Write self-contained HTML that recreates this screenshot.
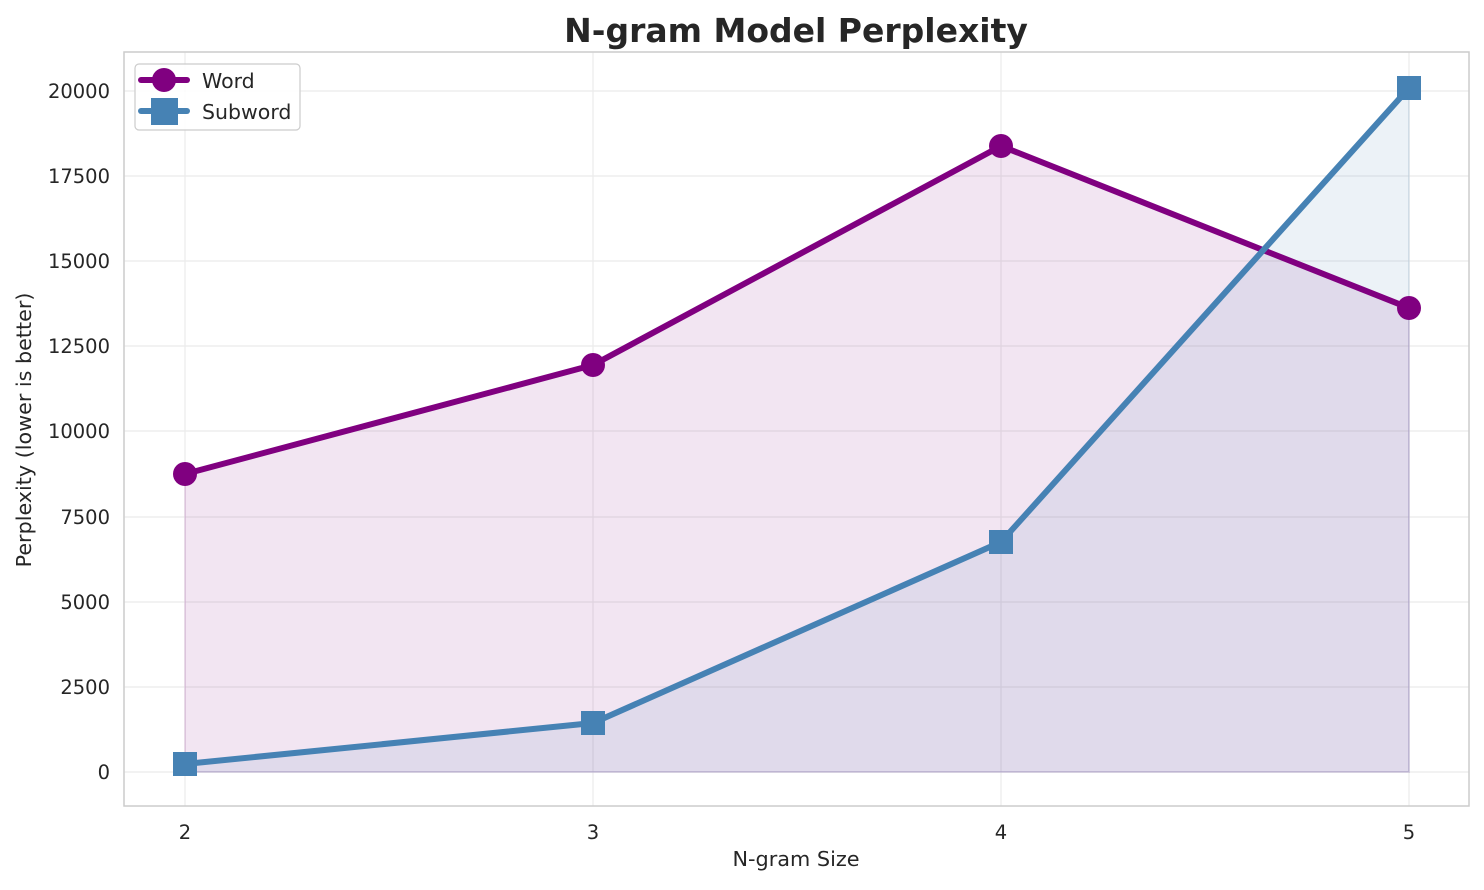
<!DOCTYPE html>
<html><head><meta charset="utf-8"><style>
body{margin:0;background:#fff}
text{font-family:"DejaVu Sans","Liberation Sans",sans-serif;fill:#262626}
</style></head><body>
<svg width="1484" height="885" viewBox="0 0 1484 885" xmlns="http://www.w3.org/2000/svg">
<rect width="1484" height="885" fill="#fff"/>
<g stroke="#ebebeb" stroke-width="1.2">
<line x1="185" y1="52" x2="185" y2="806"/><line x1="593" y1="52" x2="593" y2="806"/>
<line x1="1001" y1="52" x2="1001" y2="806"/><line x1="1409" y1="52" x2="1409" y2="806"/>
<line x1="124" y1="772" x2="1469" y2="772"/><line x1="124" y1="687" x2="1469" y2="687"/>
<line x1="124" y1="602" x2="1469" y2="602"/><line x1="124" y1="517" x2="1469" y2="517"/>
<line x1="124" y1="431" x2="1469" y2="431"/><line x1="124" y1="346" x2="1469" y2="346"/>
<line x1="124" y1="261" x2="1469" y2="261"/><line x1="124" y1="176" x2="1469" y2="176"/>
<line x1="124" y1="91" x2="1469" y2="91"/>
</g>
<polygon points="185,474 593,365 1001,146 1409,308 1409,772 185,772" fill="purple" fill-opacity="0.1" stroke="purple" stroke-opacity="0.1" stroke-width="2"/>
<polygon points="185,764 593,723 1001,542 1409,88 1409,772 185,772" fill="steelblue" fill-opacity="0.1" stroke="steelblue" stroke-opacity="0.1" stroke-width="2"/>
<polyline points="185,474 593,365 1001,146 1409,308" fill="none" stroke="purple" stroke-width="6" stroke-linejoin="round"/>
<g fill="purple"><circle cx="185" cy="474" r="12"/><circle cx="593" cy="365" r="12"/><circle cx="1001" cy="146" r="12"/><circle cx="1409" cy="308" r="12"/></g>
<polyline points="185,764 593,723 1001,542 1409,88" fill="none" stroke="steelblue" stroke-width="6" stroke-linejoin="round"/>
<g fill="steelblue"><rect x="173" y="752" width="24" height="24"/><rect x="581" y="711" width="24" height="24"/><rect x="989" y="530" width="24" height="24"/><rect x="1397" y="76" width="24" height="24"/></g>
<rect x="124" y="52" width="1345" height="754" fill="none" stroke="#ccc" stroke-width="1.5"/>
<g font-size="19.5" text-anchor="middle">
<text x="185" y="839">2</text><text x="593" y="839">3</text><text x="1001" y="839">4</text><text x="1409" y="839">5</text>
</g>
<g font-size="19.5" text-anchor="end">
<text x="110" y="779">0</text><text x="110" y="694">2500</text><text x="110" y="609">5000</text>
<text x="110" y="524">7500</text><text x="110" y="438">10000</text><text x="110" y="353">12500</text>
<text x="110" y="268">15000</text><text x="110" y="183">17500</text><text x="110" y="98">20000</text>
</g>
<text x="796" y="866" font-size="20.8" text-anchor="middle">N-gram Size</text>
<text transform="translate(31,430) rotate(-90)" font-size="20.7" text-anchor="middle">Perplexity (lower is better)</text>
<text x="796" y="42" font-size="33" font-weight="bold" text-anchor="middle">N-gram Model Perplexity</text>
<rect x="135" y="64" width="165" height="66" rx="4" fill="#fff" fill-opacity="0.85" stroke="#ccc" stroke-width="1.2"/>
<line x1="141" y1="80" x2="187" y2="80" stroke="purple" stroke-width="6" stroke-linecap="round"/>
<circle cx="164" cy="80" r="12" fill="purple"/>
<line x1="141" y1="111" x2="187" y2="111" stroke="steelblue" stroke-width="6" stroke-linecap="round"/>
<rect x="151" y="98" width="27" height="27" fill="steelblue"/>
<text x="202" y="88" font-size="20.5">Word</text>
<text x="202" y="119" font-size="20.5">Subword</text>
</svg>
</body></html>
